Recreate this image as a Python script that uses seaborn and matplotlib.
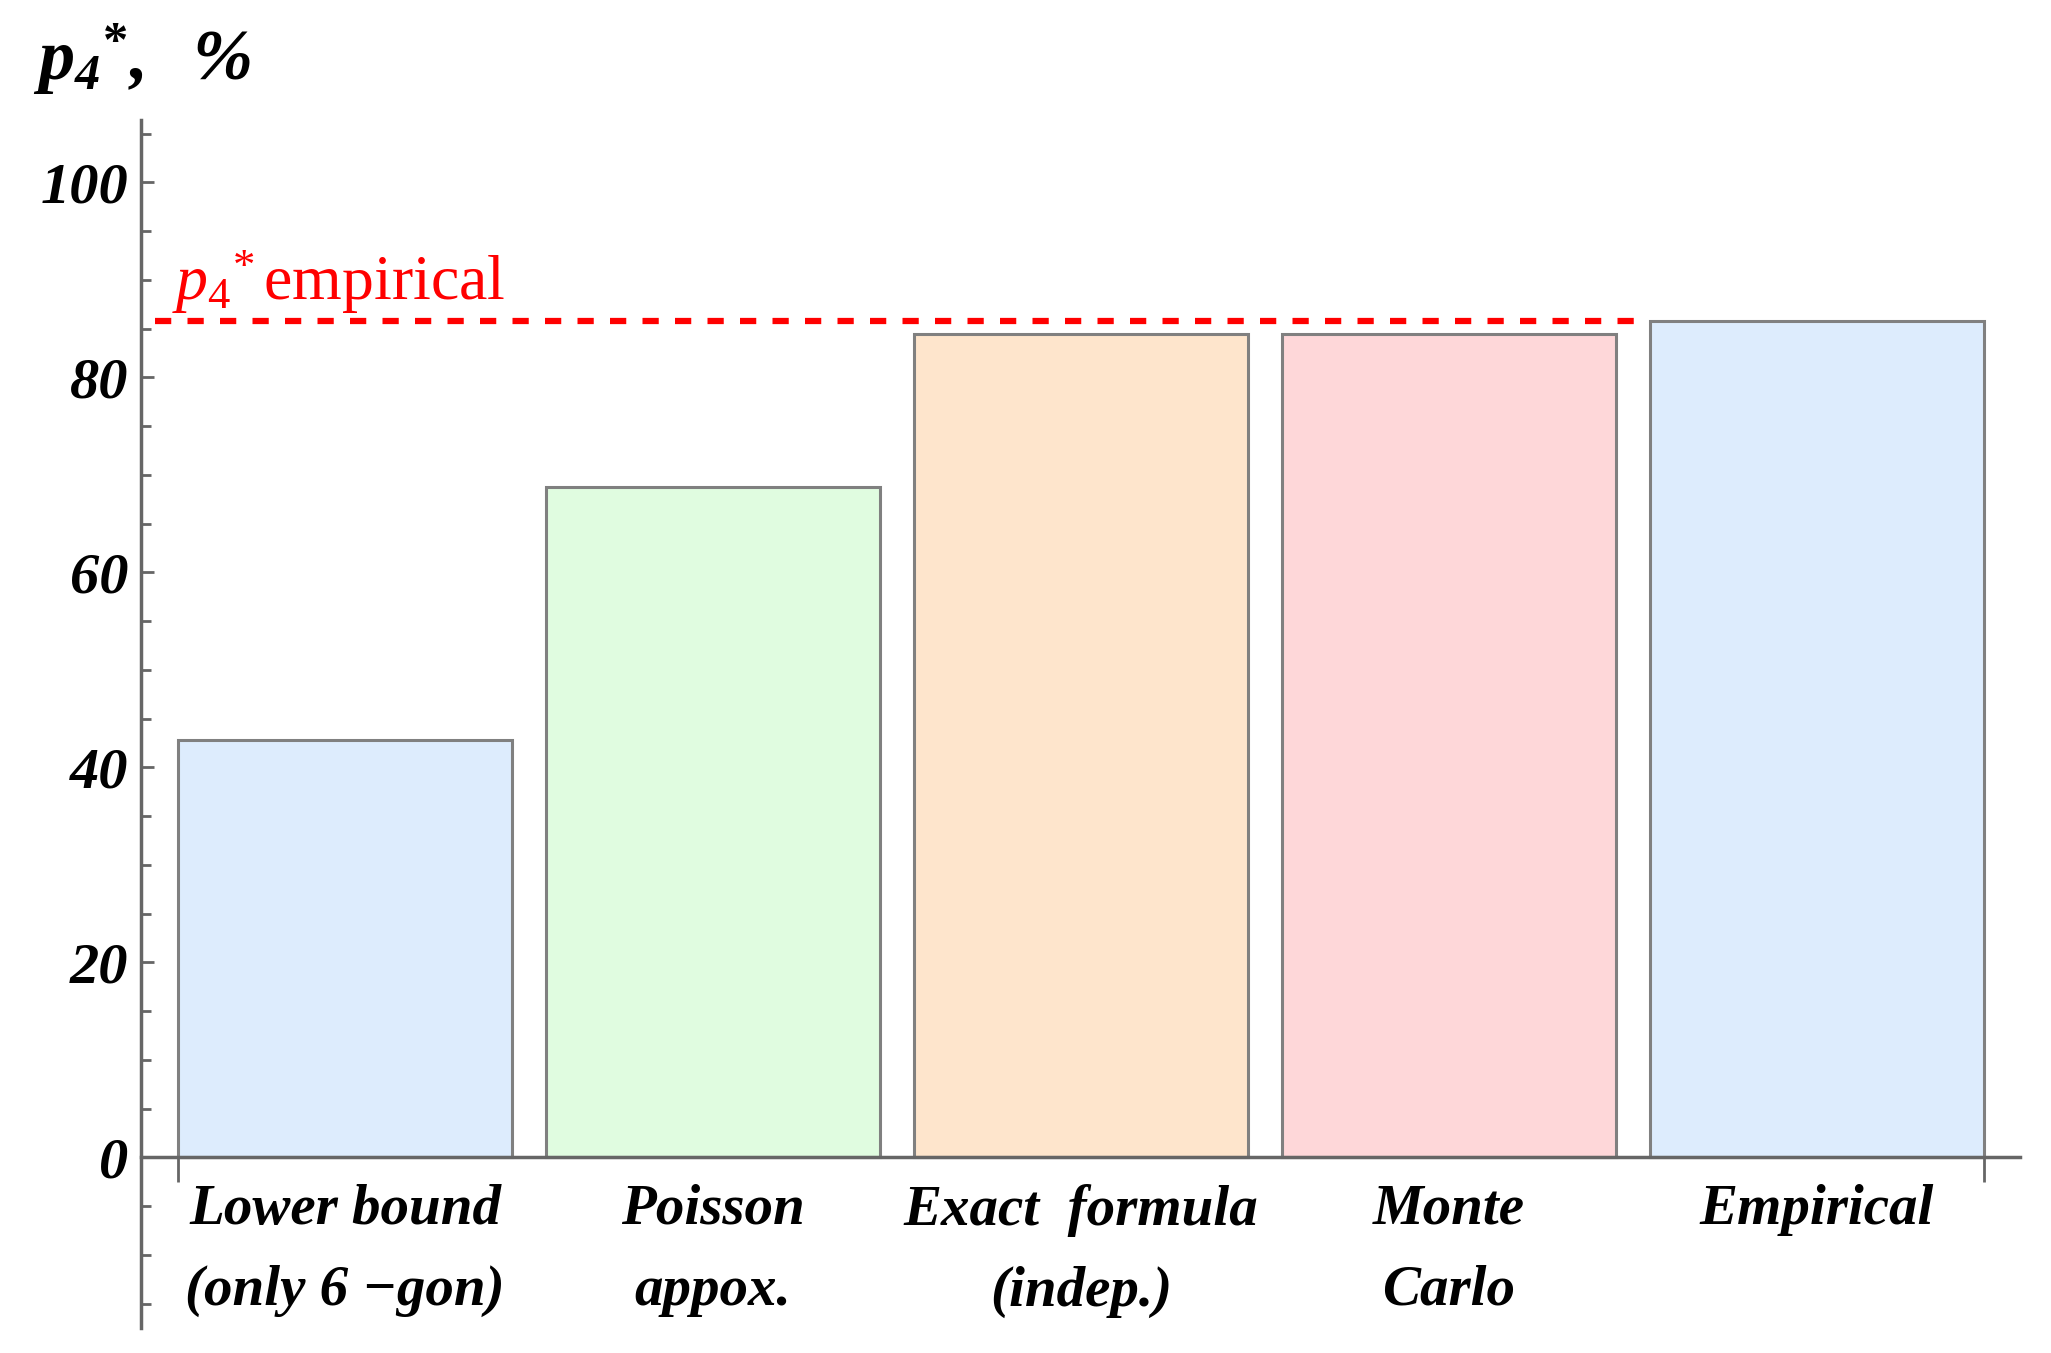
import matplotlib.pyplot as plt
import seaborn as sns
import numpy as np
import pandas as pd
from matplotlib.ticker import MultipleLocator, FixedLocator

# data
categories = [
    "Lower bound\n(only 6 \u2212gon)",
    "Poisson\nappox.",
    "Exact  formula\n(indep.)",
    "Monte\nCarlo",
    "Empirical",
]
values = [42.8, 68.8, 84.5, 84.5, 85.8]
bar_colors = ["#DDECFD", "#E0FCE0", "#FEE5CC", "#FED7D9", "#DDECFD"]
p4_empirical = 85.8
y_ticks = [0, 20, 40, 60, 80, 100]

sns.set_theme(style="white")
plt.rcParams["font.family"] = ["Liberation Serif", "DejaVu Serif"]
plt.rcParams["text.color"] = "black"
plt.rcParams["xtick.color"] = "black"
plt.rcParams["ytick.color"] = "black"
plt.rcParams["mathtext.fontset"] = "custom"
plt.rcParams["mathtext.rm"] = "Liberation Serif"
plt.rcParams["mathtext.it"] = "Liberation Serif:italic"
plt.rcParams["mathtext.bf"] = "Liberation Serif:bold"
plt.rcParams["mathtext.bfit"] = "Liberation Serif:italic:bold"

axis_gray = "#666666"

fig = plt.figure(figsize=(20.51, 13.53), dpi=100)
ax = fig.add_axes([0.0687, 0.0185, 0.916, 0.8928])

df = pd.DataFrame({"cat": categories, "val": values})
sns.barplot(
    data=df, x="cat", y="val", hue="cat", palette=bar_colors, legend=False,
    width=0.906, edgecolor="#808080", linewidth=2.2, saturation=1, ax=ax,
)

# red reference line and its label
n = len(categories)
ax.hlines(p4_empirical, -0.517, n - 1 - 0.455, colors="#FF0000", linewidth=4.5,
          linestyles=(0, (2.6, 2.6)), zorder=5)
ax.text(-0.47, 87.9, r"$p_{\mathrm{4}}{}^{*}\,$empirical", color="#FF0000",
        fontsize=46, ha="left", va="baseline")

# axes styling (Mathematica-like)
ax.set_xlim(-0.555, 4.551)
ax.set_ylim(-17.5, 106.4)
for s in ["top", "right"]:
    ax.spines[s].set_visible(False)
ax.spines["bottom"].set_position(("data", 0))
for s in ["left", "bottom"]:
    ax.spines[s].set_color(axis_gray)
    ax.spines[s].set_linewidth(2.5)

ax.set_yticks(y_ticks)
ax.set_yticklabels([str(t) for t in y_ticks])
ax.yaxis.set_minor_locator(MultipleLocator(5))
ax.tick_params(axis="y", which="major", left=True, direction="in", length=9.5,
               width=2, color=axis_gray, pad=9, labelsize=42, labelcolor="black")
ax.tick_params(axis="y", which="minor", left=True, direction="in", length=7,
               width=2, color=axis_gray)
for lab in ax.get_yticklabels():
    lab.set_fontweight("bold")
    lab.set_fontstyle("italic")

ax.set_xticks(range(n))
ax.set_xticklabels(categories, fontsize=41, fontweight="bold", fontstyle="italic",
                   linespacing=1.72, color="black")
ax.xaxis.set_minor_locator(FixedLocator([-0.453, n - 1 + 0.453]))
ax.tick_params(axis="x", which="major", bottom=True, length=0, pad=19)
ax.tick_params(axis="x", which="minor", bottom=True, direction="out", length=18,
               width=2, color=axis_gray)

ax.set_xlabel("")
ax.set_ylabel("")

fig.text(33 / 2051, 1 - 80 / 1353,
         r"$\mathbfit{p}_{\mathbfit{4}}{}^{\mathbf{*}}\mathbfit{,\ \ \%}$",
         fontsize=52, ha="left", va="baseline", color="black")

fig.savefig("out.png", dpi=100)
